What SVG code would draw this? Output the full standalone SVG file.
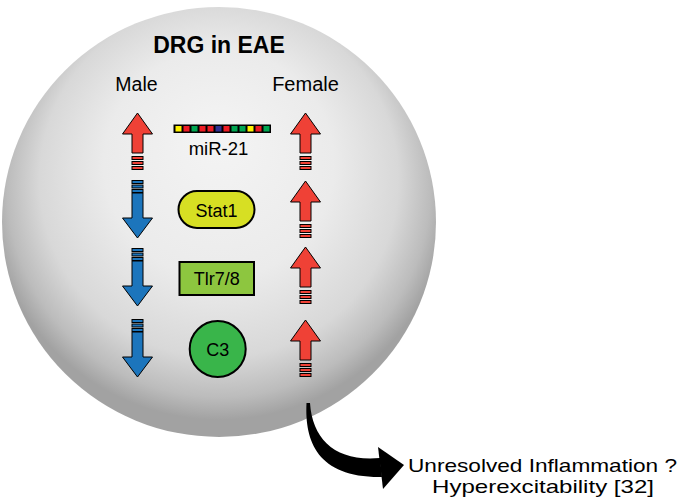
<svg xmlns="http://www.w3.org/2000/svg" xmlns:xlink="http://www.w3.org/1999/xlink" width="685" height="497" viewBox="0 0 685 497">
<style>
text{font-family:"Liberation Sans",Arial,sans-serif;fill:#000;}
.lbl{font-size:18px;text-anchor:middle;}
.up{fill:#ef4136;stroke:#000;stroke-width:1;}
.dn{fill:#1c75bc;stroke:#000;stroke-width:1;}
.box{stroke:#000;stroke-width:2;}
.sq{stroke:none;}
</style>
<defs>
<radialGradient id="sph" cx="0.5" cy="0.43" r="0.53" fx="0.5" fy="0.3">
<stop offset="0" stop-color="#f4f4f4"/>
<stop offset="0.5" stop-color="#ebebeb"/>
<stop offset="0.78" stop-color="#d8d8d8"/>
<stop offset="0.92" stop-color="#bcbcbc"/>
<stop offset="1" stop-color="#a2a2a2"/>
</radialGradient>
<g id="arrUp">
<polygon class="up" points="0,0 15,21 5.5,21 5.5,40 -5.5,40 -5.5,21 -15,21"/>
<rect class="up" x="-5.5" y="43.5" width="11" height="3"/>
<rect class="up" x="-5.5" y="48.5" width="11" height="3"/>
<rect class="up" x="-5.5" y="53.5" width="11" height="3"/>
</g>
<g id="arrDn">
<rect class="dn" x="-5.5" y="0" width="11" height="3"/>
<rect class="dn" x="-5.5" y="4.5" width="11" height="3"/>
<rect class="dn" x="-5.5" y="9" width="11" height="3"/>
<polygon class="dn" points="-5.5,12.5 5.5,12.5 5.5,37.5 15,37.5 0,57.5 -15,37.5 -5.5,37.5"/>
</g>
</defs>

<g id="cell">
<ellipse cx="219" cy="222" rx="217" ry="215" fill="url(#sph)"/>
</g>

<g id="titles">
<text x="219" y="53" font-size="23" font-weight="bold" text-anchor="middle">DRG in EAE</text>
<text x="136.5" y="91" font-size="19.5" text-anchor="middle">Male</text>
<text x="305.5" y="91" font-size="20" text-anchor="middle">Female</text>
</g>

<g id="connectors">
<use xlink:href="#arrUp" x="137.5" y="113"/>
<use xlink:href="#arrDn" x="137.5" y="180.5"/>
<use xlink:href="#arrDn" x="137.5" y="248.5"/>
<use xlink:href="#arrDn" x="137.5" y="319.5"/>
<use xlink:href="#arrUp" x="305.5" y="113"/>
<use xlink:href="#arrUp" x="305.5" y="181"/>
<use xlink:href="#arrUp" x="305.5" y="247"/>
<use xlink:href="#arrUp" x="305.5" y="320"/>
<path d="M306.5 403 C304.5 442 318 478 382 477 L380 458 C336 462 312.5 440 310 403 Z" fill="#000"/>
<polygon points="378,447 404,465 383,489" fill="#000"/>
</g>

<g id="mir21">
<rect x="173.5" y="124.5" width="97.5" height="8.5" fill="#000"/>
<g class="sq">
<rect x="175.5" y="126" width="6" height="5.5" fill="#fff200"/>
<rect x="183.5" y="126" width="6" height="5.5" fill="#ed1c24"/>
<rect x="191.5" y="126" width="6" height="5.5" fill="#00a651"/>
<rect x="199.5" y="126" width="6" height="5.5" fill="#ed1c24"/>
<rect x="207.5" y="126" width="6" height="5.5" fill="#ed1c24"/>
<rect x="215.5" y="126" width="6" height="5.5" fill="#2e3192"/>
<rect x="223.5" y="126" width="6" height="5.5" fill="#ed1c24"/>
<rect x="231.5" y="126" width="6" height="5.5" fill="#00a651"/>
<rect x="239.5" y="126" width="6" height="5.5" fill="#00a651"/>
<rect x="247.5" y="126" width="6" height="5.5" fill="#fff200"/>
<rect x="255.5" y="126" width="6" height="5.5" fill="#ed1c24"/>
<rect x="263.5" y="126" width="6" height="5.5" fill="#00a651"/>
</g>
<text x="218.5" y="155" font-size="18.5" text-anchor="middle">miR-21</text>
</g>

<g id="stat1">
<rect class="box" x="178.5" y="191" width="76" height="37" rx="18.5" fill="#d7df23"/>
<text class="lbl" x="216.5" y="216.5" font-size="17.5">Stat1</text>
</g>

<g id="tlr78">
<rect class="box" x="179.5" y="262" width="74.5" height="33" fill="#8dc63f"/>
<text class="lbl" x="216.7" y="284.5">Tlr7/8</text>
</g>

<g id="c3">
<circle class="box" cx="217.7" cy="349" r="28" fill="#39b54a"/>
<text class="lbl" x="217.7" y="356" font-size="19.5">C3</text>
</g>

<g id="outcome">
<text x="408" y="471.5" font-size="19" textLength="269" lengthAdjust="spacingAndGlyphs">Unresolved Inflammation ?</text>
<text x="432" y="492.5" font-size="19" textLength="222" lengthAdjust="spacingAndGlyphs">Hyperexcitability [32]</text>
</g>
</svg>
